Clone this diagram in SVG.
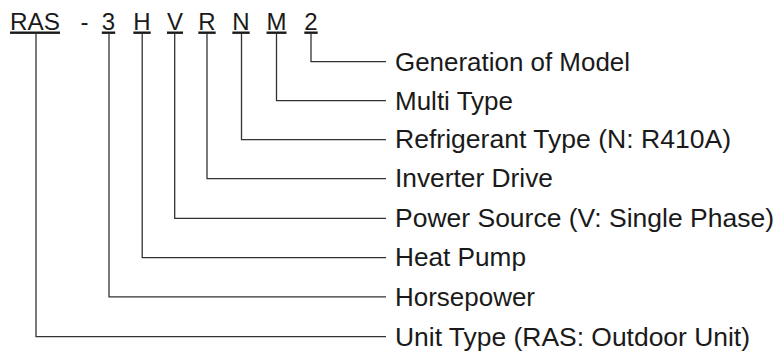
<svg xmlns="http://www.w3.org/2000/svg" width="776" height="354" viewBox="0 0 776 354">
<style>
.code{font-family:"Liberation Sans",Arial,sans-serif;font-size:24px;fill:#1a1a1a;text-anchor:middle;text-decoration:underline}
.dash{font-family:"Liberation Sans",Arial,sans-serif;font-size:24px;fill:#1a1a1a;text-anchor:middle}
.lbl{font-family:"Liberation Sans",Arial,sans-serif;font-size:25px;fill:#1a1a1a}
.conn{fill:none;stroke:#333;stroke-width:1.3}
</style>
<rect width="776" height="354" fill="#fff"/>
<g id="code">
<g id="c-ras"><text class="code" x="35" y="29.5" textLength="50" lengthAdjust="spacingAndGlyphs">RAS</text></g>
<g id="c-dash"><text class="dash" x="84.5" y="29.5">-</text></g>
<g id="c-3"><text class="code" x="108.5" y="29.5">3</text></g>
<g id="c-h"><text class="code" x="142" y="29.5">H</text></g>
<g id="c-v"><text class="code" x="175" y="29.5">V</text></g>
<g id="c-r"><text class="code" x="207" y="29.5">R</text></g>
<g id="c-n"><text class="code" x="241" y="29.5">N</text></g>
<g id="c-m"><text class="code" x="276.5" y="29.5">M</text></g>
<g id="c-2"><text class="code" x="311" y="29.5">2</text></g>
</g>
<g id="connectors">
<polyline class="conn" points="311,33 311,61.7 386,61.7"/>
<polyline class="conn" points="276.5,33 276.5,100.7 386,100.7"/>
<polyline class="conn" points="241.5,33 241.5,139.6 386,139.6"/>
<polyline class="conn" points="207,33 207,178.6 386,178.6"/>
<polyline class="conn" points="174.7,33 174.7,218.3 386,218.3"/>
<polyline class="conn" points="142.2,33 142.2,257.6 386,257.6"/>
<polyline class="conn" points="109,33 109,296.8 386,296.8"/>
<polyline class="conn" points="36,33 36,336.7 386,336.7"/>
</g>
<g id="l-gen"><text class="lbl" x="395" y="70.5" textLength="235" lengthAdjust="spacingAndGlyphs">Generation of Model</text></g>
<g id="l-multi"><text class="lbl" x="395" y="109.5" textLength="118" lengthAdjust="spacingAndGlyphs">Multi Type</text></g>
<g id="l-ref"><text class="lbl" x="395" y="148.4" textLength="336" lengthAdjust="spacingAndGlyphs">Refrigerant Type (N: R410A)</text></g>
<g id="l-inv"><text class="lbl" x="395" y="187.4" textLength="158" lengthAdjust="spacingAndGlyphs">Inverter Drive</text></g>
<g id="l-pow"><text class="lbl" x="395" y="227.1" textLength="379" lengthAdjust="spacingAndGlyphs">Power Source (V: Single Phase)</text></g>
<g id="l-heat"><text class="lbl" x="395" y="266.4" textLength="131" lengthAdjust="spacingAndGlyphs">Heat Pump</text></g>
<g id="l-hp"><text class="lbl" x="395" y="305.6" textLength="140" lengthAdjust="spacingAndGlyphs">Horsepower</text></g>
<g id="l-unit"><text class="lbl" x="395" y="345.5" textLength="355" lengthAdjust="spacingAndGlyphs">Unit Type (RAS: Outdoor Unit)</text></g>
</svg>
